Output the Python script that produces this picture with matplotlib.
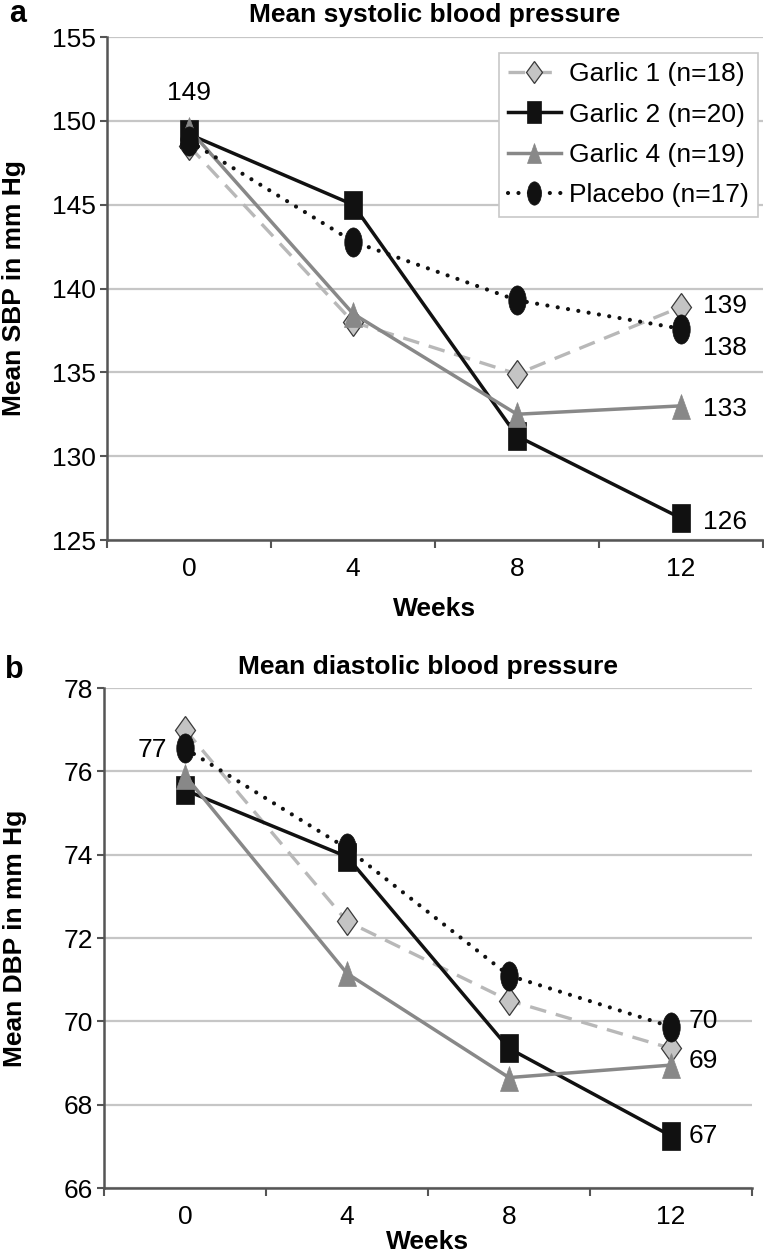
"""Mean systolic / diastolic blood pressure over 12 weeks (garlic trial)."""
import matplotlib
matplotlib.use("Agg")
import matplotlib.pyplot as plt
import numpy as np
from matplotlib.markers import MarkerStyle
from matplotlib.transforms import Affine2D

plt.rcParams["font.family"] = ["Liberation Sans", "DejaVu Sans"]

weeks = ["0", "4", "8", "12"]
groups = ["Garlic 1 (n=18)", "Garlic 2 (n=20)", "Garlic 4 (n=19)", "Placebo (n=17)"]

sbp_garlic1 = [148.5, 138.0, 134.9, 138.9]
sbp_garlic2 = [149.2, 145.0, 131.2, 126.3]
sbp_garlic4 = [149.5, 138.5, 132.5, 133.0]
sbp_placebo = [148.8, 142.8, 139.3, 137.6]

dbp_garlic1 = [77.0, 72.4, 70.5, 69.35]
dbp_garlic2 = [75.55, 73.95, 69.35, 67.25]
dbp_garlic4 = [75.9, 71.15, 68.65, 68.95]
dbp_placebo = [76.55, 74.15, 71.1, 69.87]

# value labels: (text, group index, week index)
sbp_labels = [("149", 1, 0), ("139", 0, 3), ("138", 3, 3), ("133", 2, 3), ("126", 1, 3)]
dbp_labels = [("77", 3, 0), ("70", 3, 3), ("69", 2, 3), ("67", 1, 3)]

FS = 19


def mk(base, sx):
    return MarkerStyle(base, transform=Affine2D().scale(sx, 1.0))


STYLES = [
    dict(color="#b8b8b8", lw=2.4, linestyle=(0, (5, 3)), marker=mk("D", 0.72), ms=14.5,
         mfc="#c4c4c4", mec="#3a3a3a", mew=0.9),
    dict(color="#111111", lw=2.5, linestyle="-", marker=mk("s", 0.62), ms=20,
         mfc="#111111", mec="#111111", mew=0.5),
    dict(color="#888888", lw=2.5, linestyle="-", marker=mk("^", 0.72), ms=18,
         mfc="#888888", mec="#888888", mew=0.5),
    dict(color="#111111", lw=3.0, linestyle=(0, (0.01, 2.5)), marker=mk("o", 0.6), ms=21,
         mfc="#111111", mec="#111111", mew=0.5, dash_capstyle="round"),
]

# label offsets in points, relative to the labelled point
SBP_OFFSETS = {"149": (0, 30, "center"), "139": (16, 1, "left"), "138": (16, -14, "left"),
               "133": (16, -2, "left"), "126": (16, -3, "left")}
DBP_OFFSETS = {"77": (-13, -1, "right"), "70": (13, 4, "left"), "69": (13, 3, "left"),
               "67": (13, 0, "left")}


def style_axis(ax, ylim, ystep):
    x = np.arange(len(weeks))
    ax.set_xlim(-0.5, len(weeks) - 0.5)
    ax.set_ylim(*ylim)
    ax.set_yticks(np.arange(ylim[0], ylim[1] + 0.1, ystep))
    ax.set_xticks(x)
    ax.set_xticklabels(weeks)
    ax.set_xticks(np.arange(-0.5, len(weeks)), minor=True)
    ax.tick_params(axis="x", which="major", length=0, pad=12, labelsize=FS)
    ax.tick_params(axis="x", which="minor", length=6, width=1.5, color="#555555", direction="out")
    ax.tick_params(axis="y", length=5, width=1.5, color="#555555", labelsize=FS, pad=3)
    ax.grid(True, axis="y", color="#c6c6c6", linewidth=1.6, zorder=0)
    ax.set_axisbelow(True)
    for s in ("top", "right"):
        ax.spines[s].set_visible(False)
    for s in ("left", "bottom"):
        ax.spines[s].set_color("#555555")
        ax.spines[s].set_linewidth(1.8)
    ax.spines["bottom"].set_zorder(3)


def draw(ax, series, labels, offsets):
    x = np.arange(len(weeks))
    for vals, name, st in zip(series, groups, STYLES):
        st = dict(st)
        ax.plot(x, vals, label=name, zorder=4, clip_on=False,
                color=st.pop("color"), linewidth=st.pop("lw"), **st)
    for txt, g, w in labels:
        dx, dy, ha = offsets[txt]
        ax.annotate(txt, (x[w], series[g][w]), xytext=(dx, dy), textcoords="offset points",
                    ha=ha, va="center", fontsize=FS, zorder=6)


fig = plt.figure(figsize=(7.64, 12.6), dpi=100)

ax1 = fig.add_axes([107 / 764, 1 - 540 / 1260, 656 / 764, 503 / 1260])
style_axis(ax1, (125, 155), 5)
draw(ax1, [sbp_garlic1, sbp_garlic2, sbp_garlic4, sbp_placebo], sbp_labels, SBP_OFFSETS)
ax1.set_title("Mean systolic blood pressure", fontsize=FS, fontweight="bold", pad=11)
ax1.set_ylabel("Mean SBP in mm Hg", fontsize=FS, fontweight="bold")
ax1.yaxis.set_label_coords(-0.124, 0.5)
ax1.set_xlabel("Weeks", fontsize=FS, fontweight="bold", labelpad=12)
leg = ax1.legend(loc="upper right", bbox_to_anchor=(0.992, 0.968), borderaxespad=0,
                 fontsize=FS, handlelength=2.0, handletextpad=0.3, labelspacing=0.62,
                 borderpad=0.35, fancybox=False, framealpha=1, edgecolor="#c8c8c8")
leg.get_frame().set_linewidth(1.2)
for h in leg.legend_handles:
    h.set_markersize(h.get_markersize() * 0.8)
fig.text(0.012, 1 - 22 / 1260, "a", fontsize=22, fontweight="bold", va="baseline")

ax2 = fig.add_axes([104 / 764, 1 - 1188 / 1260, 648 / 764, 500 / 1260])
style_axis(ax2, (66, 78), 2)
draw(ax2, [dbp_garlic1, dbp_garlic2, dbp_garlic4, dbp_placebo], dbp_labels, DBP_OFFSETS)
ax2.set_title("Mean diastolic blood pressure", fontsize=FS, fontweight="bold", pad=10)
ax2.set_ylabel("Mean DBP in mm Hg", fontsize=FS, fontweight="bold")
ax2.yaxis.set_label_coords(-0.119, 0.5)
ax2.set_xlabel("Weeks", fontsize=FS, fontweight="bold", labelpad=1)
fig.text(0.006, 1 - 678 / 1260, "b", fontsize=22, fontweight="bold", va="baseline")

fig.savefig("out.png", dpi=100)
